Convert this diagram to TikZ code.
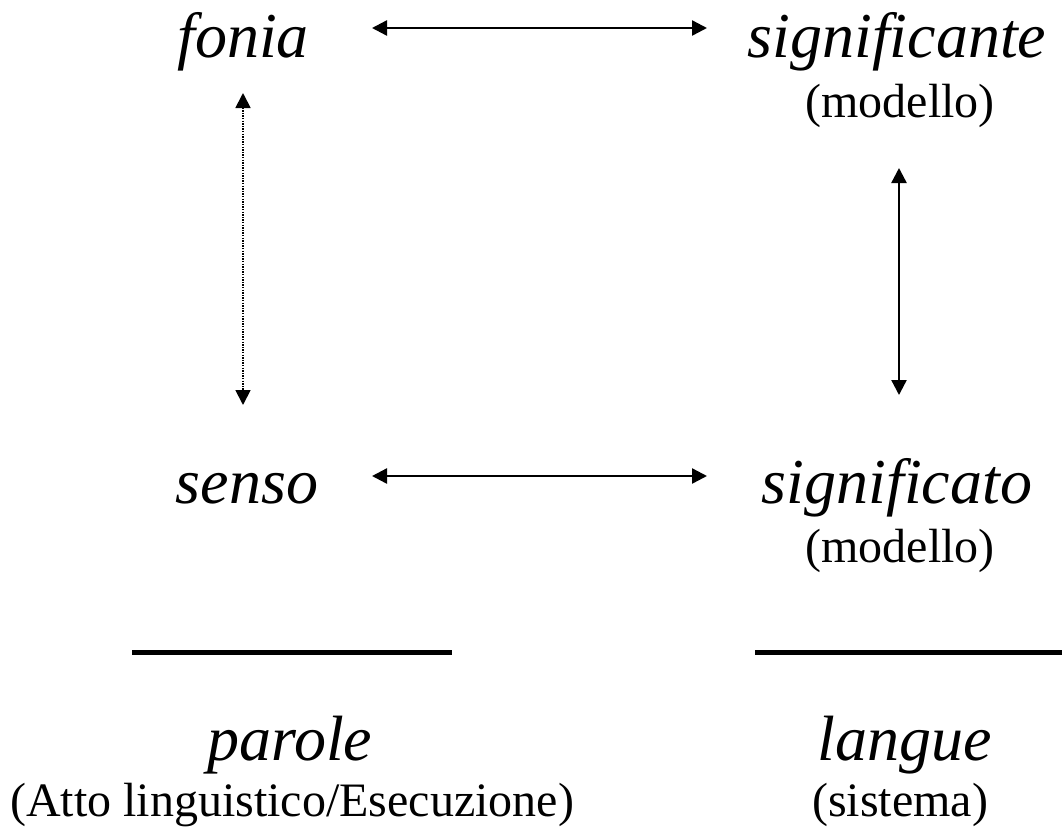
\documentclass[tikz,border=0pt]{standalone}
\usepackage{fontspec}
\setmainfont{Liberation Serif}
\usetikzlibrary{arrows.meta}
\tikzset{
  term/.style={inner sep=0pt, anchor=base, font=\fontsize{64}{70}\selectfont\itshape},
  note/.style={inner sep=0pt, anchor=base, font=\fontsize{48}{54}\selectfont},
  link/.style={line width=2.4pt, {Triangle[length=15pt,width=15pt]}-{Triangle[length=15pt,width=15pt]}},
  dotlink/.style={line width=1.8pt, dash pattern=on 1.4pt off 1.2pt, {Triangle[length=15pt,width=15pt]}-{Triangle[length=15pt,width=15pt]}},
  bar/.style={line width=5pt}
}
\begin{document}
\begin{tikzpicture}[x=1pt,y=-1pt]
\useasboundingbox (0,0) rectangle (1062,828);
% terms
\node[term] (fonia) at (243,57) {fonia};
\node[term] (signte) at (897,57) {significante};
\node[note] (mod1) at (900,117) {(modello)};
\node[term] (senso) at (247,503) {senso};
\node[term] (signto) at (897,503) {significato};
\node[note] (mod2) at (900,562) {(modello)};
\node[term] (parole) at (290,760) {parole};
\node[note] (atto) at (292,816) {(Atto linguistico/Esecuzione)};
\node[term] (langue) at (905,760) {langue};
\node[note] (sist) at (900,816) {(sistema)};
% arrow ends
\coordinate (t1) at (372,28);
\coordinate (t2) at (707,28);
\coordinate (b1) at (372,476);
\coordinate (b2) at (707,476);
\coordinate (l1) at (243,93);
\coordinate (l2) at (243,405);
\coordinate (r1) at (899,168);
\coordinate (r2) at (899,395);
\draw[link] (t1) -- (t2);
\draw[link] (b1) -- (b2);
\draw[link] (r1) -- (r2);
\draw[dotlink] (l1) -- (l2);
% bars
\coordinate (p1) at (132,652);
\coordinate (p2) at (452,652);
\coordinate (q1) at (755,652);
\coordinate (q2) at (1062,652);
\draw[bar] (p1) -- (p2);
\draw[bar] (q1) -- (q2);
\end{tikzpicture}
\end{document}
